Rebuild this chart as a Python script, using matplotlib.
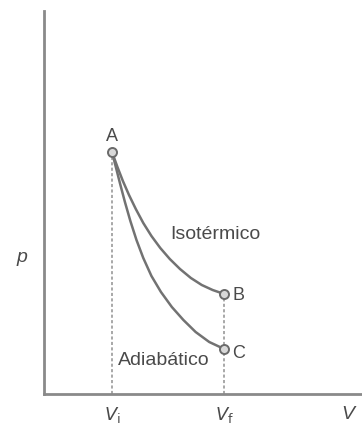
import matplotlib
matplotlib.use("Agg")
import matplotlib.pyplot as plt

# volumes / pressures (arbitrary units)
V_I = 1.0
V_F = 2.65
P_A = 2.42
P_B = 1.00
P_C = 0.45

ISO_V = [1.00, 1.08, 1.16, 1.25, 1.35, 1.46, 1.58, 1.71, 1.85, 2.00, 2.16, 2.32, 2.48, 2.65]
ISO_P = [2.42, 2.27, 2.13, 1.99, 1.85, 1.71, 1.58, 1.46, 1.35, 1.25, 1.16, 1.09, 1.04, 1.00]

ADI_V = [1.00, 1.06, 1.12, 1.19, 1.27, 1.36, 1.46, 1.58, 1.72, 1.88, 2.05, 2.23, 2.43, 2.65]
ADI_P = [2.42, 2.26, 2.10, 1.92, 1.73, 1.54, 1.36, 1.18, 1.02, 0.87, 0.74, 0.62, 0.52, 0.45]

AXIS_COLOR = "#8a8a8a"
CURVE_COLOR = "#727272"
TEXT_COLOR = "#4a4a4a"

plt.rcParams["font.family"] = ["Liberation Sans", "DejaVu Sans"]

fig = plt.figure(figsize=(3.62, 4.31), dpi=100)
ax = fig.add_axes([44 / 362, 36 / 431, 318 / 362, 383 / 431])
ax.set_xlim(0, 318 / 68)
ax.set_ylim(0, 3.83)

for side in ["top", "right"]:
    ax.spines[side].set_visible(False)
for side in ["left", "bottom"]:
    ax.spines[side].set_color(AXIS_COLOR)
    ax.spines[side].set_linewidth(2.0)

ax.set_yticks([])
ax.set_xticks([V_I, V_F])
ax.set_xticklabels([r"$V_\mathrm{i}$", r"$V_\mathrm{f}$"], fontsize=13, color=TEXT_COLOR)
ax.tick_params(axis="x", length=0, pad=7)

# dashed guides
ax.plot([V_I, V_I], [0, P_A], ls=(0, (1.6, 1.2)), color="#a8a8a8", lw=1.4)
ax.plot([V_F, V_F], [0, P_B], ls=(0, (1.6, 1.2)), color="#a8a8a8", lw=1.4)

# curves
ax.plot(ISO_V, ISO_P, color=CURVE_COLOR, lw=1.8, solid_joinstyle="round")
ax.plot(ADI_V, ADI_P, color=CURVE_COLOR, lw=1.8, solid_joinstyle="round")

# state points
ax.plot([V_I, V_F, V_F], [P_A, P_B, P_C], "o", ms=6.5, mfc="#d8d8d8",
        mec="#6a6a6a", mew=1.4, zorder=5)

ax.text(V_I, P_A + 0.08, "A", ha="center", va="bottom", fontsize=13, color=TEXT_COLOR)
ax.text(V_F + 0.12, P_B, "B", ha="left", va="center", fontsize=13, color=TEXT_COLOR)
ax.text(V_F + 0.12, P_C - 0.04, "C", ha="left", va="center", fontsize=13, color=TEXT_COLOR)
ax.text(2.52, 1.60, "Isotérmico", ha="center", va="center", fontsize=14, color=TEXT_COLOR)
ax.text(1.76, 0.34, "Adiabático", ha="center", va="center", fontsize=14, color=TEXT_COLOR)

ax.text(-0.32, 1.37, "p", ha="center", va="center", fontsize=14, style="italic",
        color=TEXT_COLOR, clip_on=False)
ax.text(4.47, -0.20, "V", ha="center", va="center", fontsize=14, style="italic",
        color=TEXT_COLOR, clip_on=False)

fig.savefig("out.png", dpi=100)
